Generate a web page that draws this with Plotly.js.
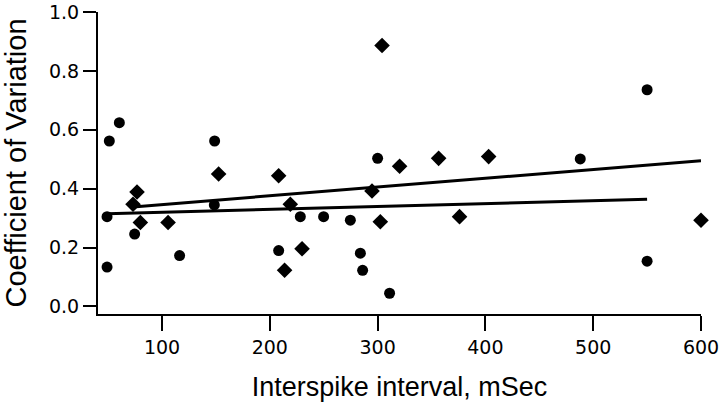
<!DOCTYPE html>
<html>
<head>
<meta charset="utf-8">
<script src="https://cdn.plot.ly/plotly-3.0.1.min.js"></script>
<style>html,body{margin:0;padding:0;background:#fff;}#chart{width:720px;height:405px;}</style>
</head>
<body>
<div id="chart"></div>
<script>
// Series 1 (circles): interspike interval (ms) and coefficient of variation
const circleISI = [51.1, 60.4, 148.8, 49, 74.6, 116.3, 49, 148.5, 208.2, 228.3, 249.9, 274.7, 284, 286.1, 311.1, 300, 488, 550, 550];
const circleCV  = [0.562, 0.624, 0.562, 0.305, 0.246, 0.173, 0.134, 0.345, 0.19, 0.305, 0.305, 0.293, 0.181, 0.123, 0.045, 0.503, 0.501, 0.154, 0.736];

// Series 2 (diamonds)
const diamondISI = [76.8, 73.1, 79.9, 105.6, 152.5, 208.2, 219, 229.9, 213.7, 320.4, 356.6, 403, 294.8, 302.5, 376, 304.1, 600];
const diamondCV  = [0.389, 0.347, 0.285, 0.285, 0.45, 0.444, 0.347, 0.196, 0.123, 0.476, 0.503, 0.509, 0.392, 0.288, 0.305, 0.886, 0.293];

// Regression lines (endpoints)
const circleFitX = [49, 550];
const circleFitY = [0.315, 0.364];
const diamondFitX = [73.1, 600];
const diamondFitY = [0.338, 0.495];

// Axis ticks
const xTicks = [100, 200, 300, 400, 500, 600];
const yTicks = [0.0, 0.2, 0.4, 0.6, 0.8, 1.0];

const traces = [
  {x: circleFitX, y: circleFitY, mode: 'lines', line: {color: '#000', width: 3}, hoverinfo: 'skip', cliponaxis: false},
  {x: diamondFitX, y: diamondFitY, mode: 'lines', line: {color: '#000', width: 3}, hoverinfo: 'skip', cliponaxis: false},
  {x: circleISI, y: circleCV, mode: 'markers', marker: {symbol: 'circle', size: 11, color: '#000'}, cliponaxis: false},
  {x: diamondISI, y: diamondCV, mode: 'markers', marker: {symbol: 'diamond', size: 12, color: '#000'}, cliponaxis: false}
];

const tickFont = {family: 'DejaVu Sans', size: 19, color: '#000'};
const layout = {
  width: 720, height: 405,
  margin: {l: 98, r: 19, t: 12, b: 91},
  showlegend: false,
  paper_bgcolor: '#fff', plot_bgcolor: '#fff',
  xaxis: {
    range: [40.6, 600], tickvals: xTicks, ticktext: xTicks.map(String),
    showline: true, linecolor: '#000', linewidth: 2,
    ticks: 'outside', ticklen: 15, tickwidth: 2, tickcolor: '#000',
    showgrid: false, zeroline: false, tickfont: tickFont, ticklabeloverflow: 'allow',
    title: {text: 'Interspike interval, mSec', font: {family: 'Liberation Sans', size: 27, color: '#000'}, standoff: 20},
    automargin: false
  },
  yaxis: {
    range: [-0.0255, 1.0], tickvals: yTicks, ticktext: yTicks.map(v => v.toFixed(1)),
    showline: true, linecolor: '#000', linewidth: 2,
    ticks: 'outside', ticklen: 13, tickwidth: 2, tickcolor: '#000',
    showgrid: false, zeroline: false, tickfont: tickFont, ticklabeloverflow: 'allow',
    title: {text: 'Coefficient of Variation', font: {family: 'Liberation Sans', size: 29, color: '#000'}, standoff: 19},
    automargin: false
  }
};

Plotly.newPlot('chart', traces, layout, {displayModeBar: false, staticPlot: true});
</script>
</body>
</html>
